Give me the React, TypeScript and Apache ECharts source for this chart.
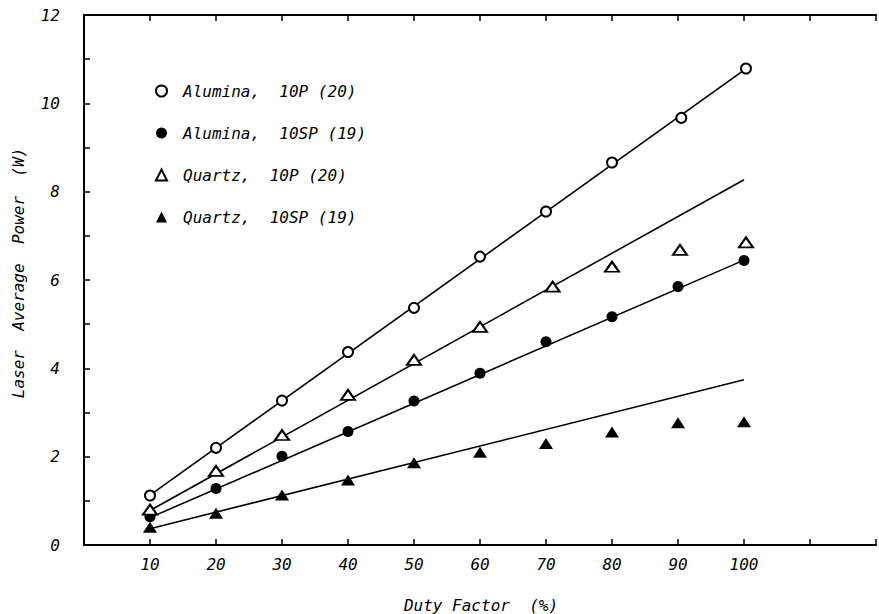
import React, { useEffect, useRef } from "react";
import * as echarts from "echarts";

// Duty factor (%) and laser average power (W)
const aluminaPX = [10, 20, 30, 40, 50, 60, 70, 80, 90.5, 100.3];
const aluminaPY = [1.12, 2.2, 3.27, 4.37, 5.37, 6.53, 7.55, 8.66, 9.67, 10.79];
const aluminaSPX = [10, 20, 30, 40, 50, 60, 70, 80, 90, 100];
const aluminaSPY = [0.64, 1.28, 2.01, 2.57, 3.26, 3.89, 4.6, 5.17, 5.85, 6.44];
const quartzPX = [10, 20, 30, 40, 50, 60, 71, 80, 90.3, 100.3];
const quartzPY = [0.8, 1.68, 2.49, 3.4, 4.19, 4.94, 5.85, 6.3, 6.68, 6.85];
const quartzSPX = [10, 20, 30, 40, 50, 60, 70, 80, 90, 100];
const quartzSPY = [0.4, 0.72, 1.13, 1.47, 1.86, 2.1, 2.3, 2.56, 2.77, 2.79];

// fitted straight lines (end points)
const fitX = [10, 100];
const aluminaPFit = [1.13, 10.75];
const aluminaSPFit = [0.62, 6.45];
const quartzPFit = [0.78, 8.27];
const quartzSPFit = [0.37, 3.74];

const seriesNames = [
  "Alumina,\u00a0\u00a010P\u00a0(20)",
  "Alumina,\u00a0\u00a010SP\u00a0(19)",
  "Quartz,\u00a0\u00a010P\u00a0(20)",
  "Quartz,\u00a0\u00a010SP\u00a0(19)",
];

const xTickLabels = [10, 20, 30, 40, 50, 60, 70, 80, 90, 100];
const yTickLabels = [0, 2, 4, 6, 8, 10, 12];

const FONT = "'DejaVu Sans Mono', monospace";

const pairs = (xs: number[], ys: number[]) => xs.map((x, i) => [x, ys[i]]);

export default function App() {
  const ref = useRef<HTMLDivElement>(null);
  useEffect(() => {
    if (!ref.current) return;
    const chart = echarts.init(ref.current, undefined, { renderer: "svg" });
    const scatter = (name: string, xs: number[], ys: number[], symbol: string, size: any) => ({
      name,
      type: "scatter",
      data: pairs(xs, ys),
      symbol,
      symbolSize: size,
      itemStyle: {
        color: "#000",
        opacity: 1,
        borderWidth: symbol.startsWith("empty") ? 1 : 0,
        borderColor: "#000",
      },
      z: 3,
    });
    const fit = (ys: number[]) => ({
      type: "line",
      data: pairs(fitX, ys),
      symbol: "none",
      lineStyle: { color: "#000", width: 1.6 },
      z: 2,
      silent: true,
    });
    const axisCommon = {
      type: "value",
      axisLine: { show: true, lineStyle: { color: "#000", width: 2 } },
      axisTick: { show: true, inside: true, length: 6, lineStyle: { color: "#000", width: 1.5 } },
      splitLine: { show: false },
    };
    chart.setOption({
      animation: false,
      backgroundColor: "#fff",
      grid: { left: 84, top: 15, width: 801, height: 530, containLabel: false },
      xAxis: [
        {
          ...axisCommon,
          position: "bottom",
          min: 0,
          max: 120,
          interval: 10,
          axisLabel: {
            color: "#000",
            fontFamily: FONT,
            fontStyle: "italic",
            fontSize: 16,
            margin: 11,
            formatter: (v: number) => (xTickLabels.includes(v) ? String(v) : ""),
          },
        },
        {
          ...axisCommon,
          position: "top",
          min: 0,
          max: 120,
          interval: 10,
          axisLabel: { show: false },
        },
      ],
      yAxis: {
        ...axisCommon,
        min: 0,
        max: 12,
        interval: 1,
        axisLabel: {
          color: "#000",
          fontFamily: FONT,
          fontStyle: "italic",
          fontSize: 16,
          margin: 24,
          formatter: (v: number) => (yTickLabels.includes(v) ? String(v) : ""),
        },
      },
      legend: {
        data: seriesNames,
        orient: "vertical",
        left: 150,
        top: 78,
        itemWidth: 11,
        itemHeight: 11,
        itemGap: 26,
        textStyle: {
          color: "#000",
          fontFamily: FONT,
          fontStyle: "italic",
          fontSize: 16,
          padding: [0, 0, 0, 11],
        },
        selectedMode: false,
      },
      graphic: [
        {
          type: "text",
          x: 481,
          y: 605,
          style: {
            text: "Duty\u00a0Factor\u00a0\u00a0(%)",
            fill: "#000",
            font: `italic 16px ${FONT}`,
            align: "center",
            verticalAlign: "middle",
          },
        },
        {
          type: "text",
          x: 18,
          y: 273,
          rotation: Math.PI / 2,
          style: {
            text: "Laser\u00a0\u00a0Average\u00a0\u00a0Power\u00a0\u00a0(W)",
            fill: "#000",
            font: `italic 16px ${FONT}`,
            align: "center",
            verticalAlign: "middle",
          },
        },
      ],
      series: [
        fit(aluminaPFit),
        fit(aluminaSPFit),
        fit(quartzPFit),
        fit(quartzSPFit),
        scatter(seriesNames[0], aluminaPX, aluminaPY, "emptyCircle", 10),
        scatter(seriesNames[1], aluminaSPX, aluminaSPY, "circle", 11),
        scatter(seriesNames[2], quartzPX, quartzPY, "emptyTriangle", [14, 10]),
        scatter(seriesNames[3], quartzSPX, quartzSPY, "triangle", [14, 11]),
      ],
    });
    return () => chart.dispose();
  }, []);
  return <div ref={ref} style={{ width: 879, height: 614, position: "absolute", left: 0, top: 0 }} />;
}
